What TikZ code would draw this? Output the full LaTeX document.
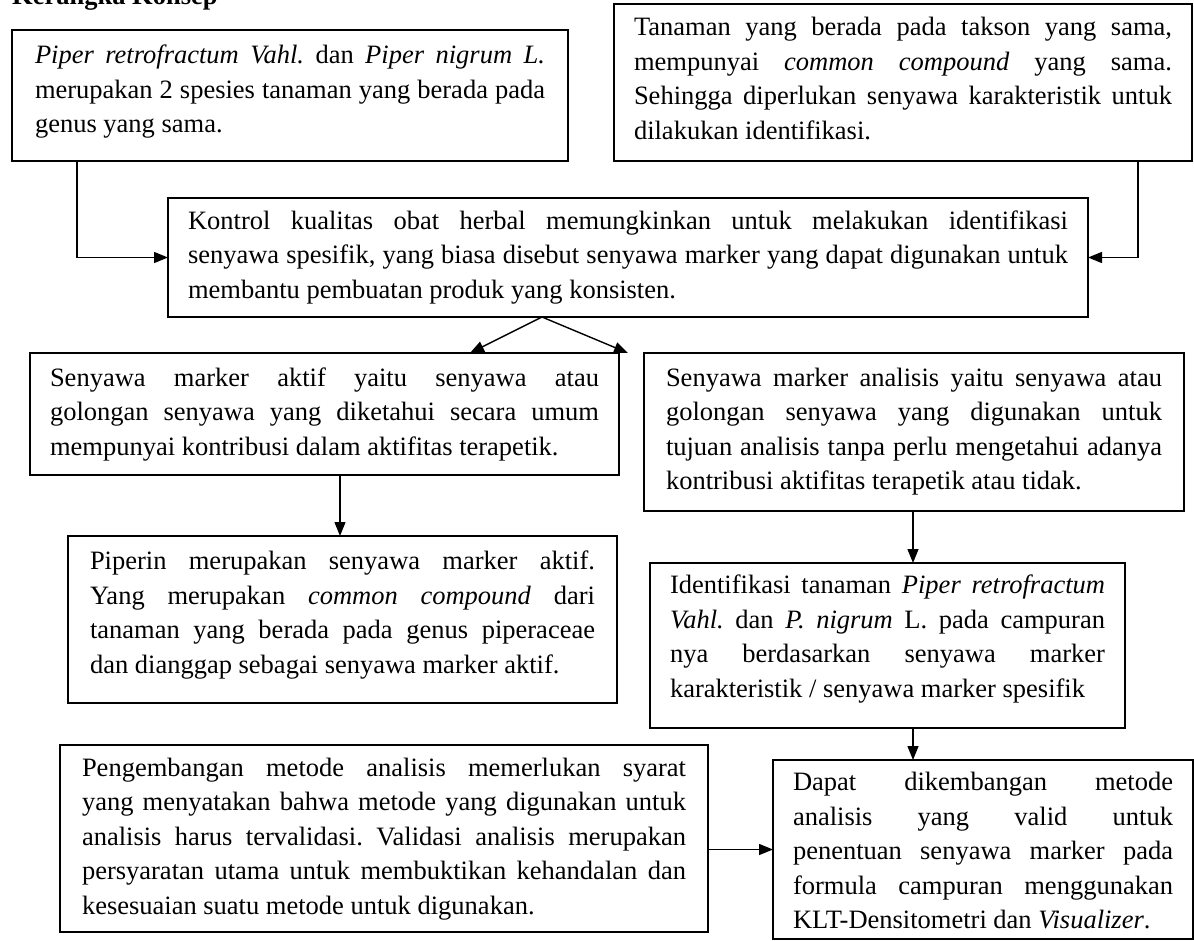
\documentclass[tikz,border=0pt]{standalone}
\usepackage{fontspec}
\setmainfont{Liberation Serif}
\usetikzlibrary{arrows.meta}
\newcommand\JL[1]{\hbox to\hsize{\vrule width0pt height25.5pt depth9pt\relax #1}}
\newcommand\LL[1]{\hbox{\vrule width0pt height25.5pt depth9pt\relax #1}}
\newcommand\BoxText[4]{\vbox to #2{\hsize=#1\relax\offinterlineskip\vskip#3\relax #4\vss}}
\tikzset{
  box/.style={draw, line width=1.7pt, inner ysep=0pt, outer sep=0pt, anchor=north west,
    font=\fontsize{26.5}{34.5}\selectfont\frenchspacing},
  conn/.style={line width=1.4pt, -{Triangle[length=14pt,width=11pt]}},
}
\begin{document}
\begin{tikzpicture}[x=1pt,y=-1pt]
\useasboundingbox (0,0) rectangle (1194,940);
\clip (0,0) rectangle (1194,940);
\node[anchor=base west, inner sep=0pt, font=\bfseries\fontsize{26.5}{30}\selectfont] (title) at (12,4) {Kerangka Konsep};

\node[box, inner xsep=23pt] (A) at (12,30) {\BoxText{510pt}{131pt}{8pt}{%
\JL{\textit{Piper retrofractum Vahl.} dan \textit{Piper nigrum L.}}%
\JL{merupakan 2 spesies tanaman yang berada pada}%
\LL{genus yang sama.}}};

\node[box, inner xsep=20pt] (B) at (614,4) {\BoxText{538pt}{157pt}{6pt}{%
\JL{Tanaman yang berada pada takson yang sama,}%
\JL{mempunyai \textit{common compound} yang sama.}%
\JL{Sehingga diperlukan senyawa karakteristik untuk}%
\LL{dilakukan identifikasi.}}};

\node[box, inner xsep=20pt] (C) at (168,198) {\BoxText{880pt}{119pt}{5.5pt}{%
\JL{Kontrol kualitas obat herbal memungkinkan untuk melakukan identifikasi}%
\JL{senyawa spesifik, yang biasa disebut senyawa marker yang dapat digunakan untuk}%
\LL{membantu pembuatan produk yang konsisten.}}};

\node[box, inner xsep=20pt] (D) at (30,353) {\BoxText{549pt}{122pt}{7.5pt}{%
\JL{Senyawa marker aktif yaitu senyawa atau}%
\JL{golongan senyawa yang diketahui secara umum}%
\LL{mempunyai kontribusi dalam aktifitas terapetik.}}};

\node[box, inner xsep=22pt] (E) at (644,353) {\BoxText{496pt}{158pt}{7.5pt}{%
\JL{Senyawa marker analisis yaitu senyawa atau}%
\JL{golongan senyawa yang digunakan untuk}%
\JL{tujuan analisis tanpa perlu mengetahui adanya}%
\LL{kontribusi aktifitas terapetik atau tidak.}}};

\node[box, inner xsep=22pt] (F) at (68,536) {\BoxText{505pt}{167pt}{8pt}{%
\JL{Piperin merupakan senyawa marker aktif.}%
\JL{Yang merupakan \textit{common compound} dari}%
\JL{tanaman yang berada pada genus piperaceae}%
\LL{dan dianggap sebagai senyawa marker aktif.}}};

\node[box, inner xsep=20pt] (G) at (650,563) {\BoxText{435pt}{165pt}{5pt}{%
\JL{Identifikasi tanaman \textit{Piper retrofractum}}%
\JL{\textit{Vahl.} dan \textit{P. nigrum} L. pada campuran}%
\JL{nya berdasarkan senyawa marker}%
\LL{karakteristik / senyawa marker spesifik}}};

\node[box, inner xsep=22pt] (H) at (60,745) {\BoxText{604pt}{187pt}{5.5pt}{%
\JL{Pengembangan metode analisis memerlukan syarat}%
\JL{yang menyatakan bahwa metode yang digunakan untuk}%
\JL{analisis harus tervalidasi. Validasi analisis merupakan}%
\JL{persyaratan utama untuk membuktikan kehandalan dan}%
\LL{kesesuaian suatu metode untuk digunakan.}}};

\node[box, inner xsep=20pt] (I) at (773,760) {\BoxText{380pt}{179pt}{5pt}{%
\JL{Dapat dikembangan metode}%
\JL{analisis yang valid untuk}%
\JL{penentuan senyawa marker pada}%
\JL{formula campuran menggunakan}%
\LL{KLT-Densitometri dan \textit{Visualizer}.}}};

\coordinate (aDrop) at (77,0);
\coordinate (bDrop) at (1138,0);
\coordinate (apex) at (542,0);
\coordinate (forkL) at (470,353);
\coordinate (forkR) at (628,353);
\coordinate (dfX) at (340,0);
\coordinate (egX) at (913,0);

\draw[conn] (A.south -| aDrop) |- (C.west);
\draw[conn] (B.south -| bDrop) |- (C.east);
\draw[conn] (C.south -| apex) -- (forkL);
\draw[conn] (C.south -| apex) -- (forkR);
\draw[conn] (D.south -| dfX) -- (F.north -| dfX);
\draw[conn] (E.south -| egX) -- (G.north -| egX);
\draw[conn] (G.south -| egX) -- (I.north -| egX);
\draw[conn] (H.east |- I.west) -- (I.west);
\end{tikzpicture}
\end{document}
